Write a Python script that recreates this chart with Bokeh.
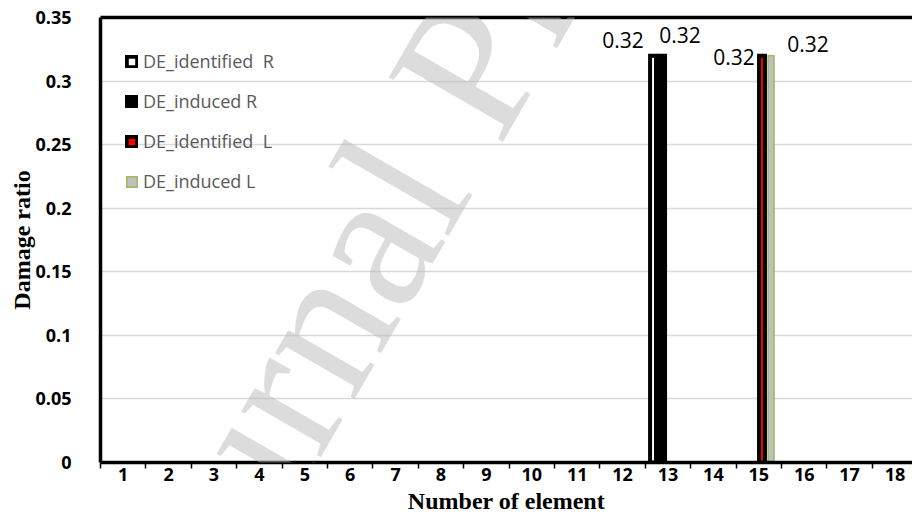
from bokeh.plotting import figure
from bokeh.models import (ColumnDataSource, Range1d, FixedTicker, Legend, LegendItem,
                          Label, LinearAxis)
from bokeh.transform import dodge
from bokeh.core.properties import value
from bokeh.embed import file_html
from bokeh.resources import INLINE

# ---------------- data ----------------
elements = [1, 2, 3, 4, 5, 6, 7, 8, 9, 10, 11, 12, 13, 14, 15, 16, 17, 18]
x_tick_labels = ["1", "2", "3", "4", "5", "6", "7", "8", "9", "10", "11", "12",
                 "13", "14", "15", "16", "17", "18"]
series_names = ["DE_identified  R", "DE_induced R", "DE_identified  L", "DE_induced L"]
de_identified_R = [0, 0, 0, 0, 0, 0, 0, 0, 0, 0, 0, 0, 0.32, 0, 0, 0, 0, 0]
de_induced_R = [0, 0, 0, 0, 0, 0, 0, 0, 0, 0, 0, 0, 0.32, 0, 0, 0, 0, 0]
de_identified_L = [0, 0, 0, 0, 0, 0, 0, 0, 0, 0, 0, 0, 0, 0, 0.32, 0, 0, 0]
de_induced_L = [0, 0, 0, 0, 0, 0, 0, 0, 0, 0, 0, 0, 0, 0, 0.32, 0, 0, 0]
y_ticks = [0, 0.05, 0.1, 0.15, 0.2, 0.25, 0.3, 0.35]
y_tick_labels = ["0", "0.05", "0.1", "0.15", "0.2", "0.25", "0.3", "0.35"]

# ---------------- style ----------------
series_values = [de_identified_R, de_induced_R, de_identified_L, de_induced_L]
dodges = [-0.33, -0.13, 0.07, 0.27]
fills = ["white", "black", "#ff0000", "#bfbfbf"]
lines = ["black", "black", "black", "#9bbb59"]
line_widths = [4, 4, 4, 1.5]
label_dx = [-30, 18, -28, 37]
label_dy = [-16, -21, 1, -12]

p = figure(width=912, height=522, output_backend="svg", toolbar_location=None,
           x_range=Range1d(0.5, 18.385), y_range=Range1d(0, 0.35),
           min_border_left=100, min_border_right=0, min_border_top=17,
           min_border_bottom=60)
p.outline_line_color = None
p.background_fill_color = "white"
p.border_fill_color = "white"

items = []
for i, vals in enumerate(series_values):
    xs = [e for e, v in zip(elements, vals) if v > 0]
    ys = [v for v in vals if v > 0]
    src = ColumnDataSource(dict(x=xs, y=ys, lbl=["%.2f" % v for v in ys]))
    r = p.vbar(x=dodge("x", dodges[i], range=p.x_range), top="y", width=0.13,
               source=src, fill_color=fills[i], line_color=lines[i],
               line_width=line_widths[i], line_join="miter")
    items.append(LegendItem(label=series_names[i], renderers=[r]))
    p.text(x=dodge("x", dodges[i], range=p.x_range), y="y", text="lbl", source=src,
           x_offset=label_dx[i], y_offset=label_dy[i],
           text_align="center", text_baseline="middle",
           text_font=value("Open Sans"), text_font_size="21px", text_color="black")

legend = Legend(items=items, location=(25, 269), orientation="vertical",
                padding=0, margin=0, spacing=16, glyph_height=13, glyph_width=13,
                label_height=13, label_standoff=5, label_text_font="Open Sans",
                label_text_font_size="18px", label_text_color="#595959",
                border_line_color=None, background_fill_alpha=0)
p.add_layout(legend)

# top border line (axis line only)
top_axis = LinearAxis(ticker=FixedTicker(ticks=[]), axis_line_width=3.5,
                      axis_line_color="black", major_tick_line_color=None,
                      minor_tick_line_color=None)
p.add_layout(top_axis, "above")

# x axis
xa = p.below[0]
xa.ticker = FixedTicker(ticks=elements, minor_ticks=[e - 0.5 for e in elements] + [18.5])
xa.major_label_overrides = {e: l for e, l in zip(elements, x_tick_labels)}
xa.major_tick_line_color = None
xa.minor_tick_line_color = "black"
xa.minor_tick_line_width = 1.5
xa.minor_tick_out = 6
xa.minor_tick_in = 0
xa.axis_line_width = 3.5
xa.axis_line_color = "black"
xa.major_label_text_font = "Open Sans"
xa.major_label_text_font_style = "bold"
xa.major_label_text_font_size = "18px"
xa.major_label_text_color = "black"
xa.major_label_standoff = -1
xa.axis_label = "Number of element"
xa.axis_label_text_font = "Liberation Serif"
xa.axis_label_text_font_style = "bold"
xa.axis_label_text_font_size = "24px"
xa.axis_label_text_color = "black"
xa.axis_label_standoff = 4

# y axis
ya = p.left[0]
ya.ticker = FixedTicker(ticks=y_ticks)
ya.major_label_overrides = {t: l for t, l in zip(y_ticks, y_tick_labels)}
ya.major_tick_line_color = None
ya.minor_tick_line_color = None
ya.axis_line_width = 3.5
ya.axis_line_color = "black"
ya.major_label_text_font = "Open Sans"
ya.major_label_text_font_style = "bold"
ya.major_label_text_font_size = "18px"
ya.major_label_text_color = "black"
ya.major_label_standoff = 23
ya.axis_label = "Damage ratio"
ya.axis_label_text_font = "Liberation Serif"
ya.axis_label_text_font_style = "bold"
ya.axis_label_text_font_size = "24px"
ya.axis_label_text_color = "black"
ya.axis_label_standoff = -3

p.xgrid.visible = False
p.ygrid.ticker = FixedTicker(ticks=y_ticks)
p.ygrid.grid_line_color = "#d9d9d9"
p.ygrid.grid_line_width = 1.5

# watermark
p.add_layout(Label(x=21, y=-205, x_units="screen", y_units="screen",
                   text="Journal Pre-proof", angle=60, angle_units="deg",
                   text_font="Liberation Serif", text_font_size="200px",
                   text_color="#b8b8b8", text_alpha=0.49,
                   text_baseline="alphabetic", text_align="left"))

open("out.html", "w").write(file_html(p, INLINE))
